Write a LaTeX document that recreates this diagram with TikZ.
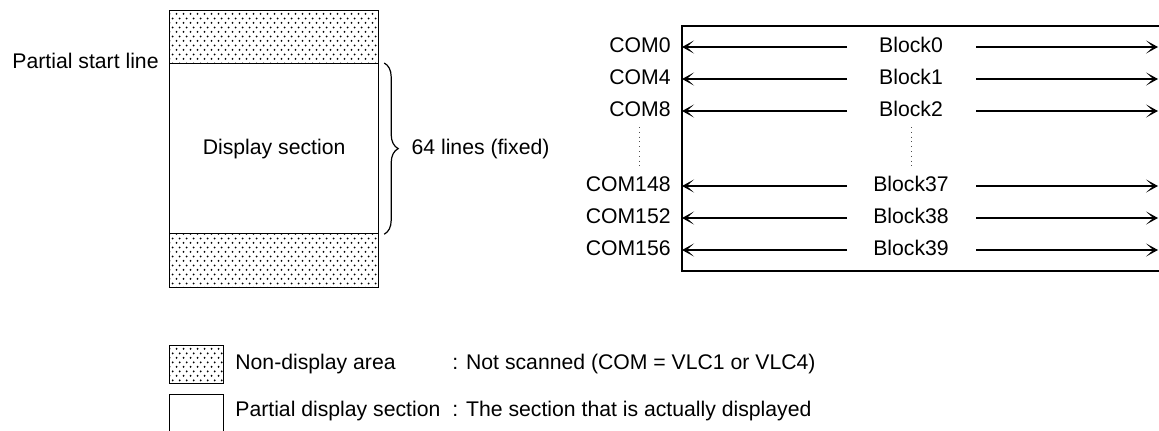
\documentclass[tikz,border=0pt]{standalone}
\usepackage{fontspec}
\setmainfont{Liberation Sans}
\usetikzlibrary{patterns,arrows.meta,decorations.pathreplacing}

% staggered screen of small dots for the non-display areas
\pgfdeclarepatternformonly{screendots}{\pgfpointorigin}{\pgfqpoint{3.5pt}{4.4pt}}{\pgfqpoint{3.5pt}{4.4pt}}{%
  \pgfpathcircle{\pgfqpoint{0.875pt}{1.1pt}}{0.55pt}%
  \pgfpathcircle{\pgfqpoint{2.625pt}{3.3pt}}{0.55pt}%
  \pgfusepath{fill}%
}

\begin{document}
\begin{tikzpicture}[x=0.5pt,y=-0.5pt,
  every node/.style={font=\fontsize{10.6}{12}\selectfont, inner sep=0pt,
    text height=7.6pt, text depth=2.2pt},
  frame/.style={draw=black, line width=0.6pt},
  nondisp/.style={frame, pattern=screendots, pattern color=black},
  area/.style={rectangle, minimum width=104.5pt, inner sep=0pt, anchor=north west,
    text height=, text depth=},
  blockarrow/.style={line width=0.6pt, -{Stealth[length=6pt,width=6.5pt,inset=3.6pt]}},
  skipline/.style={dotted, line width=0.4pt, black!70},
  lbl/.style={anchor=east},
  blk/.style={anchor=center},
]
\useasboundingbox (0,0) rectangle (1159,430);
\clip (0,0) rectangle (1159,430);

% ---- left: display area with its partial window ----
\node[area, nondisp, minimum height=26.5pt] (topnd) at (169,10) {};
\node[area, frame, minimum height=85pt] (disp) at (169,63) {};
\node[area, nondisp, minimum height=27pt] (botnd) at (169,233) {};
\node (disptext) at (disp.center) {Display section};
\node[anchor=east] (pstart) at (159,63) {Partial start line};

\draw[line width=0.6pt, decorate, decoration={brace, amplitude=7pt}]
  ([xshift=2.5pt]disp.north east) -- ([xshift=2.5pt]disp.south east)
  coordinate[pos=0.5, xshift=10pt] (bracetip);
\node[anchor=west] (fixed) at ([xshift=3.5pt]bracetip) {64 lines (fixed)};

% ---- right: common outputs and display blocks ----
\coordinate (boxtl) at (682,26);
\coordinate (boxbl) at (682,271);
\draw[frame] (1165,26) -- (boxtl) -- (boxbl) -- (1165,271);

\foreach \com/\blk/\y in {COM0/Block0/47, COM4/Block1/79, COM8/Block2/111,
                          COM148/Block37/186, COM152/Block38/218, COM156/Block39/250}{
  \node[lbl] (c\com) at (671,\y) {\com};
  \node[blk] (b\blk) at (911,\y) {\blk};
  \coordinate (w\com) at (682,\y);
  \coordinate (e\com) at (1158,\y);
  \draw[blockarrow] ([xshift=-32pt]b\blk.center) -- (w\com);
  \draw[blockarrow] ([xshift=32.5pt]b\blk.center) -- (e\com);
}
\draw[skipline] (639,127) -- (639,170);
\draw[skipline] (911,127) -- (911,169);

% ---- legend ----
\node[area, nondisp, minimum width=27pt, minimum height=19pt] (legnd) at (169,345) {};
\node[area, frame, minimum width=27pt, minimum height=20pt] (legdisp) at (169,394) {};
\node[anchor=west] (ndtext) at (235,364) {Non-display area};
\node[anchor=west] (ndnote) at (452,364) {: Not scanned (COM = VLC1 or VLC4)};
\node[anchor=west] (pdtext) at (235,411) {Partial display section};
\node[anchor=west] (pdnote) at (452,411) {: The section that is actually displayed};
\end{tikzpicture}
\end{document}
